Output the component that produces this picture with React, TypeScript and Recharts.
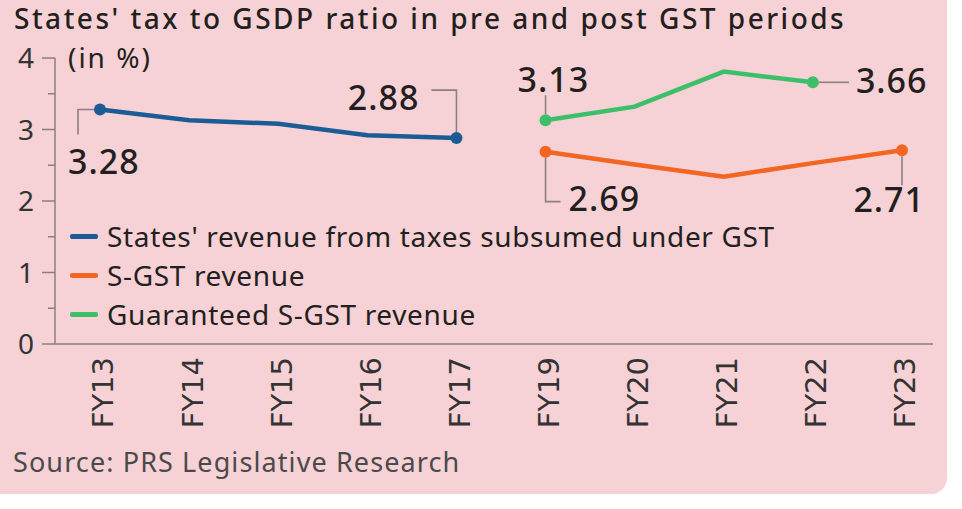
import React from 'react';
import { LineChart, Line, XAxis, YAxis, Legend } from 'recharts';

const categories = ['FY13', 'FY14', 'FY15', 'FY16', 'FY17', 'FY19', 'FY20', 'FY21', 'FY22', 'FY23'];
const statesRevenue = [3.28, 3.13, 3.08, 2.92, 2.88, null, null, null, null, null];
const sgstRevenue = [null, null, null, null, null, 2.69, 2.51, 2.34, 2.53, 2.71];
const guaranteedSgst = [null, null, null, null, null, 3.13, 3.32, 3.81, 3.66, null];
const yTicks = [0, 0.5, 1, 1.5, 2, 2.5, 3, 3.5, 4];
const seriesKeys = ['states', 'sgst', 'guaranteed'];
const seriesNames = [
  "States' revenue from taxes subsumed under GST",
  'S-GST revenue',
  'Guaranteed S-GST revenue',
];
const titleText = "States' tax to GSDP ratio in pre and post GST periods";
const unitText = '(in %)';
const sourceText = 'Source: PRS Legislative Research';

const data = categories.map((c, i) => ({
  cat: c,
  states: statesRevenue[i],
  sgst: sgstRevenue[i],
  guaranteed: guaranteedSgst[i],
}));

const COLORS: Record<string, string> = { states: '#1b5c97', sgst: '#f26522', guaranteed: '#3dbf6a' };
const LEADER = '#8c7f82';
const FONT = "'Noto Sans', sans-serif";

type Note = { leader: number[][]; tx: number; ty: number; anchor: 'start' | 'end' | 'middle' };

const notes: Record<string, Record<number, Note>> = {
  states: {
    0: { leader: [[-6, 0], [-22, 0], [-22, 25]], tx: -32, ty: 65, anchor: 'start' },
    4: { leader: [[0, -6], [0, -48], [-25, -48]], tx: -37, ty: -28, anchor: 'end' },
  },
  guaranteed: {
    5: { leader: [[0, -6], [0, -25]], tx: -28, ty: -28, anchor: 'start' },
    8: { leader: [[6, 0], [36, 0]], tx: 43, ty: 11, anchor: 'start' },
  },
  sgst: {
    5: { leader: [[0, 6], [0, 50], [15, 50]], tx: 23, ty: 59, anchor: 'start' },
    9: { leader: [[0, 6], [0, 35]], tx: 23, ty: 62, anchor: 'end' },
  },
};

const makeDot = (key: string) => (props: any) => {
  const { cx, cy, index, value } = props;
  const note = notes[key][index];
  if (!note || cx == null || cy == null || value == null) return <g key={`${key}-d-${index}`} />;
  const d = note.leader.map((p, i) => `${i === 0 ? 'M' : 'L'}${cx + p[0]},${cy + p[1]}`).join(' ');
  return (
    <g key={`${key}-d-${index}`}>
      <path d={d} stroke={LEADER} strokeWidth={1.6} fill="none" />
      <circle cx={cx} cy={cy} r={6} fill={COLORS[key]} />
      <text
        x={cx + note.tx}
        y={cy + note.ty}
        textAnchor={note.anchor}
        fontFamily={FONT}
        fontWeight={500}
        fontSize={34}
        letterSpacing={1}
        fill="#231f20"
      >
        {Number(value).toFixed(2)}
      </text>
    </g>
  );
};

const YTick = (props: any) => {
  const { x, y, payload } = props;
  const v = payload.value;
  const major = Number.isInteger(v);
  return (
    <g>
      <line x1={x - (major ? 13 : 7)} x2={x} y1={y} y2={y} stroke={LEADER} strokeWidth={1.5} />
      {major && (
        <text x={x - 21} y={y} dy="0.36em" textAnchor="end" fontFamily={FONT} fontSize={28} fill="#333">
          {v}
        </text>
      )}
    </g>
  );
};

const XTick = (props: any) => {
  const { x, y, payload } = props;
  return (
    <text
      transform={`translate(${x + 3},${y + 13}) rotate(-90)`}
      textAnchor="end"
      dy="0.36em"
      fontFamily="'DejaVu Sans', sans-serif"
      fontSize={29}
      fill="#333"
    >
      {payload.value}
    </text>
  );
};

const LegendContent = (props: any) => {
  const payload = [...(props.payload || [])].sort(
    (a: any, b: any) => seriesKeys.indexOf(a.dataKey) - seriesKeys.indexOf(b.dataKey)
  );
  return (
    <div style={{ fontFamily: FONT, fontSize: 28, letterSpacing: 0.65, color: '#231f20' }}>
      {payload.map((p: any, i: number) => (
        <div key={i} style={{ display: 'flex', alignItems: 'center', height: 39 }}>
          <div style={{ width: 28, height: 5, background: p.color, marginRight: 9, borderRadius: 2 }} />
          <span style={{ lineHeight: '39px', whiteSpace: 'nowrap' }}>{p.value}</span>
        </div>
      ))}
    </div>
  );
};

export default function App() {
  return (
    <div style={{ position: 'absolute', left: 0, top: 0, width: 962, height: 509, background: '#ffffff', overflow: 'hidden' }}>
      <div
        style={{
          position: 'absolute',
          left: 0,
          top: 0,
          width: 947,
          height: 494,
          background: '#f6d1d5',
          borderRadius: '0 0 16px 0',
        }}
      />
      <div style={{ position: 'absolute', left: 0, top: 0 }}>
        <LineChart width={962} height={509} data={data} margin={{ top: 58, right: 29, left: 0, bottom: 0 }}>
          <XAxis
            dataKey="cat"
            scale="point"
            padding={{ left: 45, right: 31 }}
            height={165}
            tickLine={false}
            tickSize={0}
            tickMargin={0}
            interval={0}
            axisLine={{ stroke: LEADER, strokeWidth: 1.5 }}
            tick={<XTick />}
          />
          <YAxis
            domain={[0, 4]}
            ticks={yTicks}
            width={55}
            tickLine={false}
            tickSize={0}
            tickMargin={0}
            interval={0}
            axisLine={{ stroke: LEADER, strokeWidth: 1.5 }}
            tick={<YTick />}
          />
          <Legend
            layout="vertical"
            align="center"
            verticalAlign="middle"
            wrapperStyle={{ left: 70, top: 217, width: 780, height: 120 }}
            content={<LegendContent />}
          />
          <Line
            dataKey="states"
            name={seriesNames[0]}
            stroke={COLORS.states}
            strokeWidth={4.5}
            dot={makeDot('states')}
            activeDot={false}
            isAnimationActive={false}
          />
          <Line
            dataKey="sgst"
            name={seriesNames[1]}
            stroke={COLORS.sgst}
            strokeWidth={4.5}
            dot={makeDot('sgst')}
            activeDot={false}
            isAnimationActive={false}
          />
          <Line
            dataKey="guaranteed"
            name={seriesNames[2]}
            stroke={COLORS.guaranteed}
            strokeWidth={4.5}
            dot={makeDot('guaranteed')}
            activeDot={false}
            isAnimationActive={false}
          />
        </LineChart>
      </div>
      <svg
        width={962}
        height={509}
        style={{ position: 'absolute', left: 0, top: 0, pointerEvents: 'none' }}
      >
        <text x={14} y={29} fontFamily={FONT} fontWeight={500} fontSize={28} letterSpacing={2.5} fill="#231f20">
          {titleText}
        </text>
        <text x={68} y={68} fontFamily={FONT} fontSize={28} letterSpacing={2} fill="#231f20">
          {unitText}
        </text>
        <text x={13} y={472} fontFamily={FONT} fontSize={27} letterSpacing={1.1} fill="#4a4a4a">
          {sourceText}
        </text>
      </svg>
    </div>
  );
}
